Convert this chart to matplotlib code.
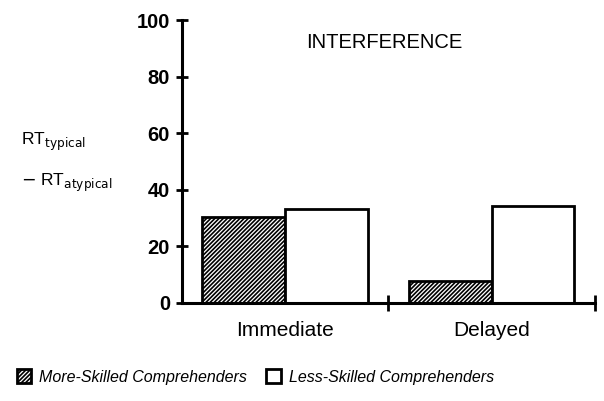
import matplotlib.pyplot as plt
import numpy as np

plt.rcParams['font.family'] = ['Liberation Sans', 'DejaVu Sans']
plt.rcParams['hatch.linewidth'] = 1.2

# data
conditions = ['Immediate', 'Delayed']
more_skilled = [30.3, 7.6]
less_skilled = [33.2, 34.4]
yticks = [0, 20, 40, 60, 80, 100]

fig = plt.figure(figsize=(6.04, 4.01), dpi=100)
ax = fig.add_axes([0.301, 0.245, 0.684, 0.705])

x = np.arange(len(conditions))
w = 0.4
b1 = ax.bar(x - w / 2, more_skilled, w, facecolor='white', edgecolor='black',
            hatch='////////', linewidth=2, label='More-Skilled Comprehenders')
b2 = ax.bar(x + w / 2, less_skilled, w, facecolor='white', edgecolor='black',
            linewidth=2, label='Less-Skilled Comprehenders')

ax.set_xlim(-0.5, 1.5)
ax.set_ylim(0, 100)
ax.spines['top'].set_visible(False)
ax.spines['right'].set_visible(False)
ax.spines['left'].set_linewidth(2.2)
ax.spines['bottom'].set_linewidth(2.2)

ax.set_yticks(yticks)
ax.set_yticklabels([str(t) for t in yticks], fontsize=14.5, fontweight='bold')
ax.tick_params(axis='y', direction='inout', length=9, width=2, pad=4)

# category labels at the centres, tick marks at the group boundaries
ax.set_xticks([0.5, 1.5])
ax.set_xticklabels(['', ''])
ax.tick_params(axis='x', direction='inout', length=12, width=2)
ax.set_xticks(x, minor=True)
ax.set_xticklabels(conditions, minor=True, fontsize=15)
ax.tick_params(axis='x', which='minor', length=0, pad=13)

ax.text(0.478, 92, 'INTERFERENCE', fontsize=14.5, ha='center', va='center')

fig.text(0.035, 0.645, r'RT$_{\mathrm{typical}}$', fontsize=12.5, ha='left', va='center')
fig.text(0.035, 0.545, r'$-$ RT$_{\mathrm{atypical}}$', fontsize=12.5, ha='left', va='center')

fig.legend(handles=[b1, b2], loc='center', bbox_to_anchor=(0.423, 0.06), ncol=2,
           frameon=False, prop={'style': 'italic', 'size': 11.5},
           handlelength=0.9, handleheight=0.9, columnspacing=1.2, handletextpad=0.5)

fig.savefig('out.png', dpi=100)
